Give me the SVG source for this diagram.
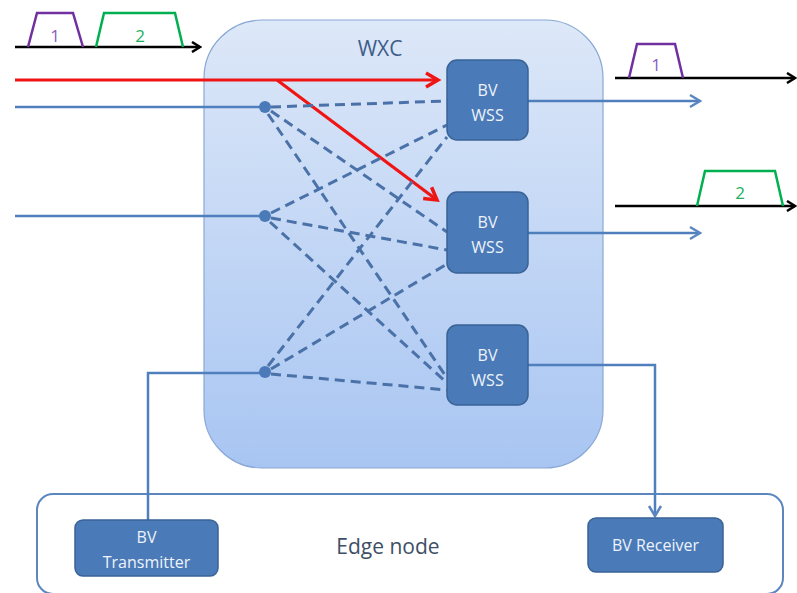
<svg xmlns="http://www.w3.org/2000/svg" width="797" height="593" viewBox="0 0 797 593">
<defs>
<linearGradient id="wxcg" x1="0" y1="0" x2="0" y2="1">
<stop offset="0" stop-color="#dde8f8"/>
<stop offset="1" stop-color="#a8c5f2"/>
</linearGradient>
<marker id="ab" markerWidth="12" markerHeight="12" refX="10" refY="6" orient="auto" markerUnits="userSpaceOnUse">
<path d="M2,1 L10,6 L2,11" fill="none" stroke="#000" stroke-width="2.5"/>
</marker>
<marker id="ar" markerWidth="18" markerHeight="18" refX="14" refY="9" orient="auto" markerUnits="userSpaceOnUse">
<path d="M2,2 L14,9 L2,16" fill="none" stroke="#f01515" stroke-width="3.5"/>
</marker>
<marker id="abl" markerWidth="16" markerHeight="16" refX="13" refY="8" orient="auto" markerUnits="userSpaceOnUse">
<path d="M3,2 L13,8 L3,14" fill="none" stroke="#5b86c0" stroke-width="2.5"/>
</marker>
</defs>
<style>
.blk{stroke:#000;stroke-width:2.5;fill:none}
.red{stroke:#f01515;stroke-width:3.2;fill:none}
.bl{stroke:#4f7fbd;stroke-width:2.5;fill:none}
.dash{stroke:#4a72a8;stroke-width:3;fill:none;stroke-dasharray:10 6}
.box{fill:#4a7ab8;stroke:#3a6396;stroke-width:1.5}
.bt{font-family:"Open Sans","Liberation Sans",Arial,sans-serif;font-size:16px;fill:#eef3fb;text-anchor:middle}
.lbl{font-family:"Open Sans","Liberation Sans",Arial,sans-serif;text-anchor:middle}
.dot{fill:#4a7ab8}
</style>

<g id="edge-node">
<rect x="37" y="494" width="746" height="100" rx="16" fill="#fff" stroke="#5b86c0" stroke-width="2"/>
<text class="lbl" x="388" y="554" font-size="21" fill="#3d4f66">Edge node</text>
</g>

<g id="wxc">
<rect x="204" y="20" width="399" height="448" rx="58" fill="url(#wxcg)" stroke="#8aa8d4" stroke-width="1.2"/>
<text class="lbl" x="380" y="56" font-size="21" fill="#3d5d8a">WXC</text>
</g>

<g id="connectors">
<line class="blk" x1="15" y1="47" x2="200" y2="47" marker-end="url(#ab)"/>
<line class="red" x1="15" y1="80" x2="438" y2="80" marker-end="url(#ar)"/>
<line class="red" x1="277" y1="80" x2="437" y2="200" marker-end="url(#ar)"/>
<line class="bl" x1="15" y1="107" x2="265" y2="107"/>
<line class="bl" x1="15" y1="216" x2="265" y2="216"/>
<polyline class="bl" points="148,520 148,373 265,373"/>
<line class="dash" x1="271" y1="107" x2="447" y2="101"/>
<line class="dash" x1="271" y1="111" x2="447" y2="232"/>
<line class="dash" x1="268" y1="114" x2="447" y2="378"/>
<line class="dash" x1="271" y1="213" x2="447" y2="125"/>
<line class="dash" x1="271" y1="218" x2="447" y2="250"/>
<line class="dash" x1="270" y1="222" x2="447" y2="383"/>
<line class="dash" x1="268" y1="366" x2="447" y2="137"/>
<line class="dash" x1="271" y1="369" x2="447" y2="264"/>
<line class="dash" x1="271" y1="374" x2="447" y2="390"/>
<line class="bl" x1="528" y1="101" x2="700" y2="101" marker-end="url(#abl)"/>
<line class="bl" x1="528" y1="233" x2="700" y2="233" marker-end="url(#abl)"/>
<polyline class="bl" points="528,365 655,365 655,516" marker-end="url(#abl)"/>
<line class="blk" x1="615" y1="78" x2="795" y2="78" marker-end="url(#ab)"/>
<line class="blk" x1="615" y1="206" x2="795" y2="206" marker-end="url(#ab)"/>
</g>

<g id="dots">
<circle class="dot" cx="265" cy="107" r="6"/>
<circle class="dot" cx="265" cy="216" r="6"/>
<circle class="dot" cx="265" cy="372" r="6"/>
</g>

<g id="spectra">
<polyline points="28,47 37,13 73,13 83,47" fill="none" stroke="#7030a0" stroke-width="2.5"/>
<text class="lbl" x="55" y="42" font-size="17" fill="#8a5cc0">1</text>
<polyline points="96,47 104,13 175,13 183,47" fill="none" stroke="#00b050" stroke-width="2.5"/>
<text class="lbl" x="140" y="42" font-size="17" fill="#22b060">2</text>
<polyline points="629,78 637,44 675,44 683,78" fill="none" stroke="#7030a0" stroke-width="2.5"/>
<text class="lbl" x="656" y="71" font-size="17" fill="#8a5cc0">1</text>
<polyline points="697,206 705,171 775,171 783,206" fill="none" stroke="#00b050" stroke-width="2.5"/>
<text class="lbl" x="740" y="199" font-size="17" fill="#22b060">2</text>
</g>

<g id="wss1">
<rect class="box" x="447" y="60" width="81" height="80" rx="10"/>
<text class="bt" x="487.5" y="96">BV</text>
<text class="bt" x="487.5" y="121">WSS</text>
</g>
<g id="wss2">
<rect class="box" x="447" y="192" width="81" height="81" rx="10"/>
<text class="bt" x="487.5" y="228">BV</text>
<text class="bt" x="487.5" y="253">WSS</text>
</g>
<g id="wss3">
<rect class="box" x="447" y="325" width="81" height="80" rx="10"/>
<text class="bt" x="487.5" y="361">BV</text>
<text class="bt" x="487.5" y="386">WSS</text>
</g>

<g id="transmitter">
<rect class="box" x="75" y="520" width="143" height="56" rx="8"/>
<text class="bt" x="146.5" y="543">BV</text>
<text class="bt" x="146.5" y="568">Transmitter</text>
</g>
<g id="receiver">
<rect class="box" x="588" y="518" width="135" height="54" rx="8"/>
<text class="bt" x="655.5" y="551">BV Receiver</text>
</g>
</svg>
